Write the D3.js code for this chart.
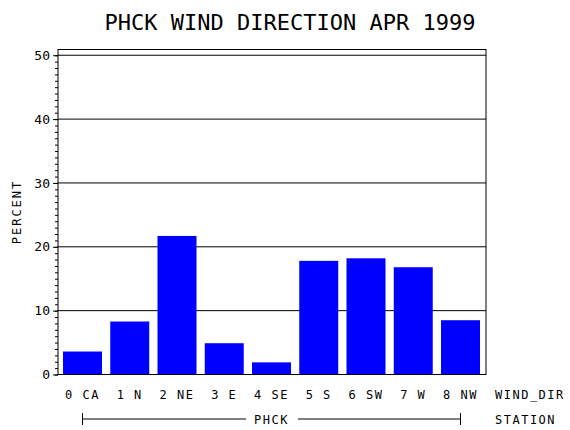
<!DOCTYPE html>
<html><head><meta charset="utf-8">
<script src="https://cdn.jsdelivr.net/npm/d3@7"></script>
<style>body{margin:0;background:#fff}text{font-family:"DejaVu Sans Mono",monospace}</style>
</head><body><svg id="c" width="570" height="430"></svg>
<script>
var labels = ['0 CA','1 N','2 NE','3 E','4 SE','5 S','6 SW','7 W','8 NW'];
var percent = [3.6, 8.3, 21.7, 4.9, 1.9, 17.8, 18.2, 16.8, 8.5];
var yTicks = [0, 10, 20, 30, 40, 50];

var svg = d3.select('#c');
var L = 58, R = 486, T = 49.5, B = 374.5;
var y = d3.scaleLinear().domain([0, 50.9]).range([B, T]);
var x = d3.scaleBand().domain(labels).range([63, 480]).paddingInner(0.175).paddingOuter(0);

//Titre
svg.append('text').attr('x', 290).attr('y', 30).attr('text-anchor', 'middle')
  .attr('font-size', 22).text('PHCK WIND DIRECTION APR 1999');

//Grille
svg.selectAll('.grid').data(yTicks.slice(1)).enter().append('line')
  .attr('x1', L).attr('x2', R).attr('y1', d => y(d)).attr('y2', d => y(d))
  .attr('stroke', '#000');

//Barres
svg.selectAll('.bar').data(percent).enter().append('rect')
  .attr('x', (d, i) => x(labels[i])).attr('width', x.bandwidth())
  .attr('y', d => y(d)).attr('height', d => B - y(d)).attr('fill', '#0000ff');

svg.append('rect').attr('x', L).attr('y', T).attr('width', R - L).attr('height', B - T)
  .attr('fill', 'none').attr('stroke', '#000');

//Axe Y
var ax = svg.append('g').attr('transform', 'translate(' + L + ',0)')
  .call(d3.axisLeft(y).tickValues(yTicks).tickSize(5).tickPadding(3));
ax.select('.domain').remove();
ax.selectAll('text').attr('font-size', 13).style('font-family', '"DejaVu Sans Mono",monospace');
svg.append('g').attr('transform', 'translate(' + L + ',0)')
  .call(d3.axisLeft(y).tickValues(d3.range(0, 51)).tickSize(3).tickFormat(''))
  .select('.domain').remove();

svg.append('text').attr('transform', 'translate(21,' + (T + B) / 2 + ') rotate(-90)')
  .attr('text-anchor', 'middle').attr('font-size', 12).attr('letter-spacing', 2).text('PERCENT');

//Axe X
svg.selectAll('.lab').data(labels).enter().append('text')
  .attr('x', d => x(d) + x.bandwidth() / 2).attr('y', 399).attr('text-anchor', 'middle')
  .attr('font-size', 12).attr('letter-spacing', 1.5).text(d => d);
svg.append('text').attr('x', 495).attr('y', 399).attr('font-size', 12).attr('letter-spacing', 1.5).text('WIND_DIR');
svg.append('text').attr('x', 495).attr('y', 424).attr('font-size', 12).attr('letter-spacing', 1.5).text('STATION');

var x0 = x(labels[0]) + x.bandwidth() / 2, x1 = x(labels[8]) + x.bandwidth() / 2;
svg.append('text').attr('x', (x0 + x1) / 2).attr('y', 424).attr('text-anchor', 'middle')
  .attr('font-size', 12).attr('letter-spacing', 1.5).text('PHCK');
svg.append('line').attr('x1', x0).attr('x2', 246).attr('y1', 419).attr('y2', 419).attr('stroke', '#000');
svg.append('line').attr('x1', 298).attr('x2', x1).attr('y1', 419).attr('y2', 419).attr('stroke', '#000');
[x0, x1].forEach(function (v) {
  svg.append('line').attr('x1', v).attr('x2', v).attr('y1', 413).attr('y2', 425).attr('stroke', '#000');
});
</script></body></html>
